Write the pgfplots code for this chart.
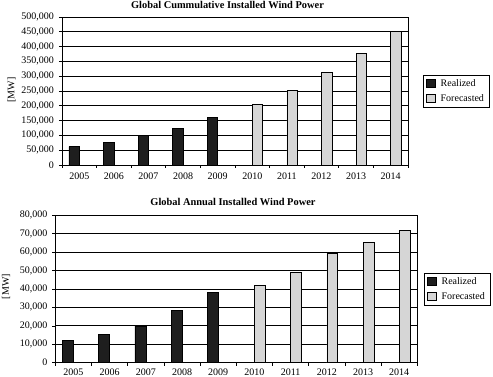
\documentclass[border=0pt]{standalone}
\usepackage{pgfplots}
\pgfplotsset{compat=1.18}
\usepackage{fontspec}
\setmainfont{Liberation Serif}
\definecolor{realc}{HTML}{1E1E1E}
\definecolor{forec}{HTML}{D6D6D6}
\newcommand{\lblfont}{\fontsize{10}{12}\selectfont}
\pgfplotsset{
  windstyle/.style={
    scale only axis,
    xmin=-0.5, xmax=9.5, ymin=0,
    xtick={0,1,2,3,4,5,6,7,8,9},
    xticklabels={2005,2006,2007,2008,2009,2010,2011,2012,2013,2014},
    minor xtick={-0.5,0.5,1.5,2.5,3.5,4.5,5.5,6.5,7.5,8.5,9.5},
    major x tick style={draw=none},
    tick align=outside,
    tick pos=left,
    major tick length=3pt,
    minor tick length=3pt,
    tick style={black, line width=0.6pt},
    ymajorgrids,
    major grid style={black, line width=0.7pt},
    axis line style={black, line width=0.7pt},
    scaled y ticks=false,
    ticklabel style={font=\lblfont},
    yticklabel style={xshift=-1.5pt},
    legend style={draw=black, line width=0.6pt, font=\lblfont, cells={anchor=west}, row sep=2.5pt, column sep=3.5pt, inner xsep=3pt, inner ysep=2.5pt},
    legend cell align=left,
  },
  realbar/.style={ybar, bar width=0.3, bar shift=0pt, draw=black, line width=0.6pt, fill=realc,
    legend image code/.code={\draw[draw=black, fill=realc, line width=0.6pt] (0pt,-4.2pt) rectangle (8.4pt,4.2pt);}},
  forebar/.style={ybar, bar width=0.3, bar shift=0pt, draw=black, line width=0.6pt, fill=forec,
    legend image code/.code={\draw[draw=black, fill=forec, line width=0.6pt] (0pt,-4.2pt) rectangle (8.4pt,4.2pt);}},
}
\begin{document}
\begin{tikzpicture}
\useasboundingbox (0,0) rectangle (493pt,377pt);
% Top chart
\begin{axis}[windstyle,
  at={(62pt,212pt)}, anchor=south west,
  width=346pt, height=148pt,
  ymax=500000,
  ytick={0,50000,100000,150000,200000,250000,300000,350000,400000,450000,500000},
  yticklabels={0,{50,000},{100,000},{150,000},{200,000},{250,000},{300,000},{350,000},{400,000},{450,000},{500,000}},
  xticklabel style={yshift=-1.5pt},
  legend style={at={(1.043,0.5)}, anchor=west},
]
\addplot[realbar] coordinates {(-0.15,62000) (0.85,76000) (1.85,99000) (2.85,124000) (3.85,160500)};
\addlegendentry{Realized}
\addplot[forebar] coordinates {(5.15,203500) (6.15,251000) (7.15,313500) (8.15,378000) (9.15,450000)};
\addlegendentry{Forecasted}
\end{axis}
\node[anchor=base, font=\fontsize{10.4}{12}\selectfont\bfseries] at (227.5pt,368pt) {Global Cummulative Installed Wind Power};
\node[rotate=90, font=\lblfont] at (11.5pt,287pt) {[MW]};
% Bottom chart
\begin{axis}[windstyle,
  at={(55.3pt,14.3pt)}, anchor=south west,
  width=362pt, height=147.4pt,
  ymax=80000,
  ytick={0,10000,20000,30000,40000,50000,60000,70000,80000},
  yticklabels={0,{10,000},{20,000},{30,000},{40,000},{50,000},{60,000},{70,000},{80,000}},
  xticklabel style={yshift=0.5pt},
  legend style={at={(1.018,0.5)}, anchor=west},
]
\addplot[realbar] coordinates {(-0.15,12000) (0.85,15300) (1.85,20000) (2.85,28400) (3.85,38300)};
\addlegendentry{Realized}
\addplot[forebar] coordinates {(5.15,42000) (6.15,49000) (7.15,59500) (8.15,65300) (9.15,71900)};
\addlegendentry{Forecasted}
\end{axis}
\node[anchor=base, font=\fontsize{10.4}{12}\selectfont\bfseries] at (233pt,171pt) {Global Annual Installed Wind Power};
\node[rotate=90, font=\lblfont] at (6pt,90.3pt) {[MW]};
\end{tikzpicture}
\end{document}
